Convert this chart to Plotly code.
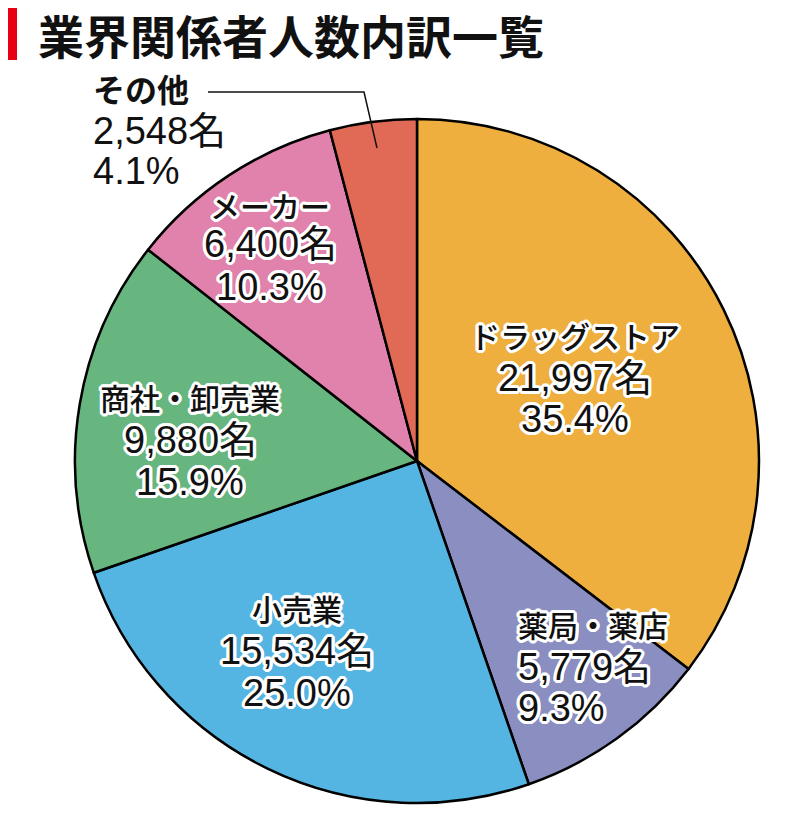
import plotly.graph_objects as go

categories = ["ドラッグストア", "薬局・薬店", "小売業", "商社・卸売業", "メーカー", "その他"]
counts = [21997, 5779, 15534, 9880, 6400, 2548]
percents = [35.4, 9.3, 25.0, 15.9, 10.3, 4.1]
colors = ["#EEAF3F", "#8A8EC0", "#55B5E2", "#68B67F", "#E082AB", "#E16A57"]
title_text = "業界関係者人数内訳一覧"

W, H = 800, 818
OFF = 8  # page body margin


def px(sx):
    return (sx - OFF) / W


def py(sy):
    return 1 - (sy - OFF) / H


cx, cy, r = 417, 461, 342

fig = go.Figure(go.Pie(
    labels=categories, values=counts, sort=False, direction="clockwise", rotation=0,
    marker=dict(colors=colors, line=dict(color="#000000", width=2.5)),
    textinfo="none", hoverinfo="label+value+percent", showlegend=False,
    domain=dict(x=[px(cx - r), px(cx + r)], y=[py(cy + r), py(cy - r)]),
))

JP = "Noto Sans CJK JP, sans-serif"
NUM = "Liberation Sans, Noto Sans CJK JP, sans-serif"
halo = ", ".join(f"{dx}px {dy}px 0 #ffffff" for dx, dy in
                 [(3, 0), (-3, 0), (0, 3), (0, -3), (2, 2), (-2, -2), (2, -2), (-2, 2),
                  (3, 1), (3, -1), (-3, 1), (-3, -1), (1, 3), (-1, 3), (1, -3), (-1, -3)])

# label layout: (x, anchor, [y of each line])
label_pos = [
    (575, "center", [335, 378, 419]),
    (516, "left", [624, 667, 708]),
    (297, "center", [608, 651, 693]),
    (190, "center", [397, 440, 482]),
    (270, "center", [205, 244, 287]),
    (91, "left", [88, 131, 171]),
]

ann = []
for i, (cat, n, p) in enumerate(zip(categories, counts, percents)):
    x, anchor, ys = label_pos[i]
    lines = [cat, f"{n:,}名", f"{p:.1f}%"]
    for j, (t, y) in enumerate(zip(lines, ys)):
        other = (i == 5)
        if j == 0:
            f = dict(family=JP, size=30, color="#111111", weight=500)
        else:
            f = dict(family=NUM, size=38, color="#111111")
        if not other:
            f["shadow"] = halo
        if other and j == 0:
            f["weight"] = "bold"
            f["size"] = 32
        ann.append(dict(text=t, x=px(x), y=py(y), xref="paper", yref="paper",
                        xanchor=anchor, yanchor="middle", showarrow=False, font=f))

ann.append(dict(text=f"<b>{title_text}</b>", x=px(36), y=py(34), xref="paper", yref="paper",
                xanchor="left", yanchor="middle", showarrow=False,
                font=dict(family=JP, size=46, color="#111111")))

shapes = [
    dict(type="rect", xref="paper", yref="paper", x0=px(7), x1=px(17), y0=py(60), y1=py(8),
         fillcolor="#E60012", line=dict(width=0)),
    dict(type="path", xref="paper", yref="paper",
         path=f"M {px(208)} {py(92)} L {px(364)} {py(92)} L {px(377)} {py(148)}",
         line=dict(color="#111111", width=1.5)),
]

fig.update_layout(width=W, height=H, margin=dict(l=0, r=0, t=0, b=0),
                  paper_bgcolor="#ffffff", plot_bgcolor="#ffffff",
                  annotations=ann, shapes=shapes)
fig.write_html("out.html")
